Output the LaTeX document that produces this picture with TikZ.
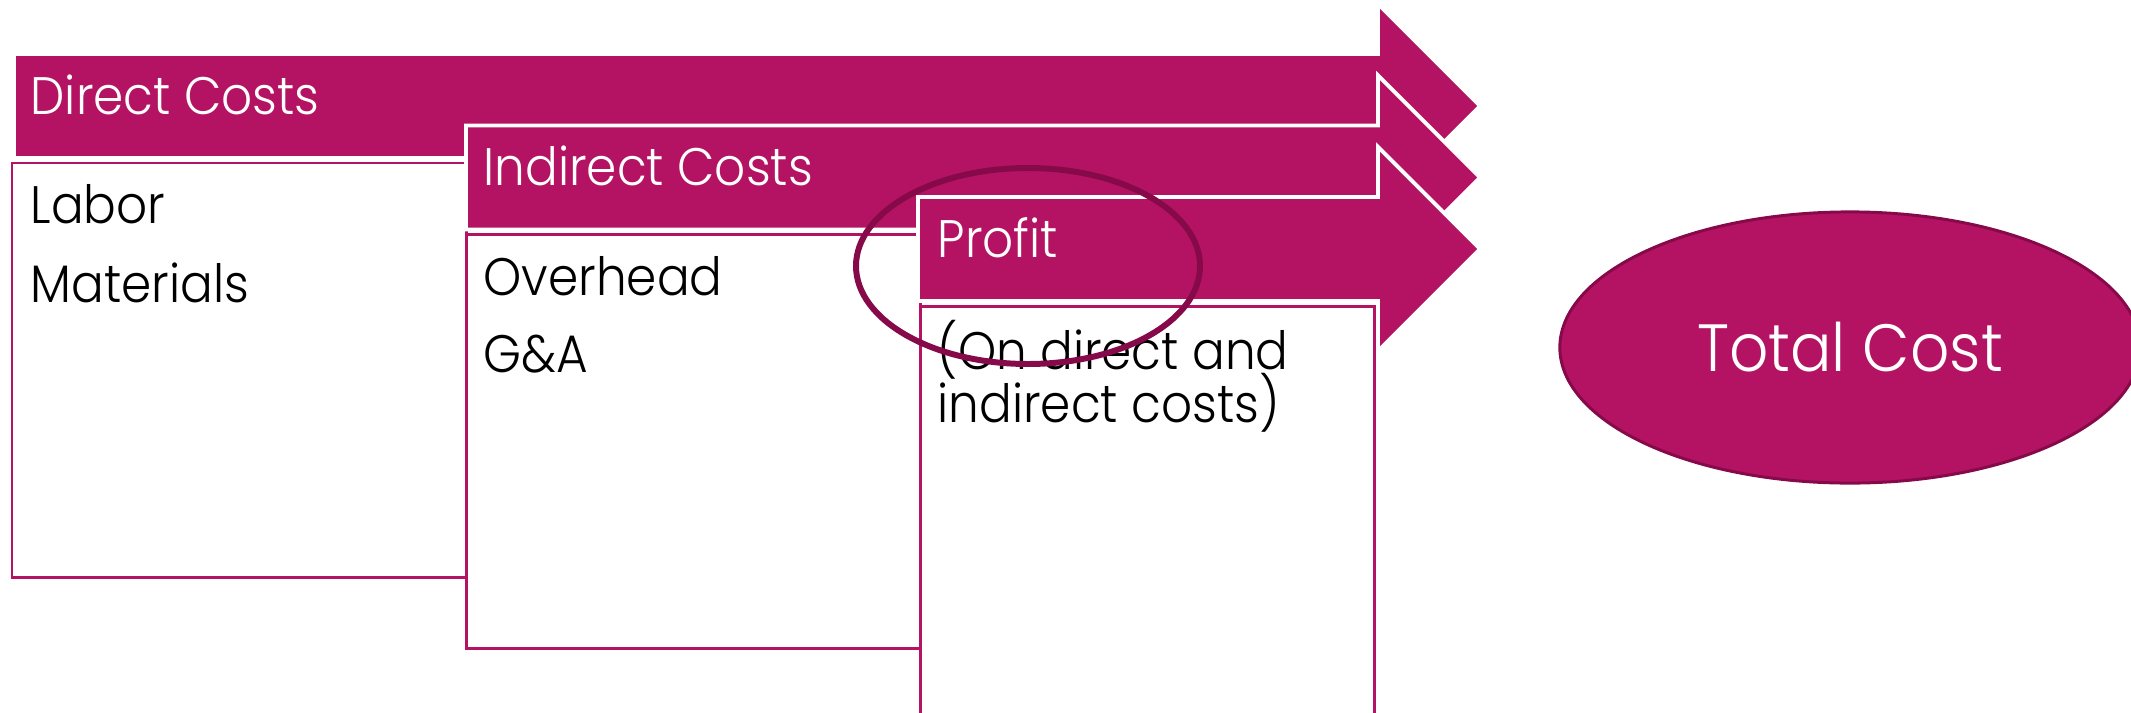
\documentclass[tikz,border=0pt]{standalone}
\usepackage{fontspec}
\setmainfont{Poppins}[UprightFont=* Light, FakeStretch=0.92]
\usetikzlibrary{shapes.geometric}
\definecolor{berry}{RGB}{180,19,99}
\definecolor{plum}{RGB}{134,10,73}

\begin{document}
\begin{tikzpicture}[x=0.01cm, y=-0.01cm,
    bar/.style={fill=berry, draw=white, line width=1.1pt, line join=miter},
    panel/.style={fill=white, draw=berry, line width=0.85pt},
    head/.style={anchor=base west, inner sep=0pt, text=white, font=\fontsize{15}{18}\selectfont},
    item/.style={anchor=base west, inner sep=0pt, text=black, align=left, font=\fontsize{15}{15.65}\selectfont}]
    \useasboundingbox (0,0) rectangle (2131,712);

    % direct costs
    \draw[panel] (12,163) rectangle (466,577);
     \draw[bar] (14,54) -- (1378,54) -- (1378,4) -- (1480,106) -- (1378,208) -- (1378,158) -- (14,158) -- cycle;

    % indirect costs
    \draw[panel] (466,234.5) rectangle (920,648.5);
     \draw[bar] (466,125.5) -- (1378,125.5) -- (1378,75.5) -- (1480,177.5) -- (1378,279.5) -- (1378,229.5) -- (466,229.5) -- cycle;

    % profit
    \draw[panel] (920,306) rectangle (1374,720);
     \draw[bar] (918,197) -- (1378,197) -- (1378,147) -- (1480,249) -- (1378,351) -- (1378,301) -- (918,301) -- cycle;

	\node[head] (direct) at (30,114) {Direct Costs};
	\node[head] (indirect) at (483,185.5) {Indirect Costs};
	\node[head] (profit) at (937,257) {Profit};

	\node[item] (labor) at (30,223) {Labor};
	\node[item] (materials) at (30,302) {Materials};
	\node[item] (overhead) at (483,295) {Overhead};
	\node[item] (ga) at (483,372) {G\&A};
	% base sits on the last line
	\node[item] (basis) at (937,422) {(On direct and\\[-2.85pt]indirect costs)};

	% circled
	\draw[plum, line width=1.7pt] (1028,266) ellipse [x radius=172, y radius=98];

	\node[ellipse, fill=berry, draw=plum, line width=0.85pt, minimum width=5.8cm, minimum height=2.71cm, inner sep=0pt, text=white, font=\fontsize{19}{23}\selectfont] (total) at (1850,347.5) {Total Cost};
\end{tikzpicture}
\end{document}
